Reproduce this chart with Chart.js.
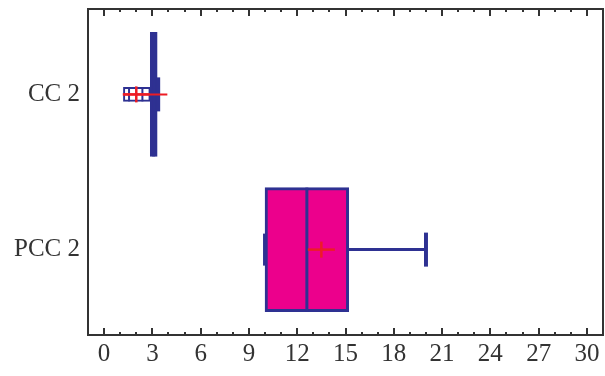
<!DOCTYPE html>
<html>
<head>
<meta charset="utf-8">
<script src="https://cdn.jsdelivr.net/npm/chart.js@4/dist/chart.umd.min.js"></script>
<style>
  html, body { margin: 0; padding: 0; background: #fff; }
  #wrap { width: 605px; height: 376px; }
</style>
</head>
<body>
<div id="wrap"><canvas id="box"></canvas></div>
<script>
// --- data ---
const categories  = ['CC 2', 'PCC 2'];
const q1Vals      = [2.87, 10.0];
const medianVals  = [3.08, 12.6];
const q3Vals      = [3.3, 15.2];
const lowCaps     = [null, 10.0];
const highCaps    = [3.36, 20.0];
const meanVals    = [2.0, 13.5];
const lowBands    = [[1.2, 2.87], null];   // CC 2 lower whisker drawn as a thin band
const bandMarks   = [[1.55, 2.38], []];    // marks inside that band
const meanSpans   = [[1.2, 3.93], null];   // red line through the CC 2 mean
const xTickValues = [0, 3, 6, 9, 12, 15, 18, 21, 24, 27, 30];

// --- colours ---
const BLUE = '#2E3192';
const MAGENTA = '#EC008C';
const RED = '#ED1C24';
const FRAME = '#333333';
const FONT = "'Liberation Serif', 'Times New Roman', serif";

const pos = i => i + 1;   // category position on the y scale

function pts(vals) {
    return vals.map((v, i) => v == null ? null : { x: v, y: pos(i) }).filter(Boolean);
}

function markDs(data, color, radius, width, rotation, order) {
    return {
        type: 'line', showLine: false, data, order,
        pointStyle: 'line', pointRotation: rotation,
        pointRadius: radius, pointHoverRadius: radius,
        pointBorderColor: color, pointBorderWidth: width,
        pointBackgroundColor: color
    };
}

const datasets = [];

// thin band (CC 2 lower whisker)
datasets.push({
    type: 'bar', indexAxis: 'y', grouped: false, order: 9,
    barPercentage: 1, categoryPercentage: 1,
    data: lowBands.map((b, i) => b ? { x: b, y: pos(i) } : null).filter(Boolean),
    backgroundColor: '#ffffff', borderColor: BLUE, borderWidth: 2,
    borderSkipped: false, maxBarThickness: 14
});
datasets.push(markDs(bandMarks.flatMap((m, i) => m.map(v => ({ x: v, y: pos(i) }))), BLUE, 7, 2, 90, 8));

// upper whiskers
categories.forEach((c, i) => {
    datasets.push({
        type: 'line', order: 7,
        data: [{ x: q3Vals[i], y: pos(i) }, { x: highCaps[i], y: pos(i) }],
        borderColor: BLUE, borderWidth: 3, pointRadius: 0
    });
});

// boxes
datasets.push({
    type: 'bar', indexAxis: 'y', grouped: false, order: 6,
    barPercentage: 1, categoryPercentage: 1,
    data: categories.map((c, i) => ({ x: [q1Vals[i], q3Vals[i]], y: pos(i) })),
    backgroundColor: MAGENTA, borderColor: BLUE, borderWidth: 3,
    borderSkipped: false, maxBarThickness: 124
});

// medians and caps
datasets.push(markDs(pts(medianVals), BLUE, 62, 3, 90, 5));
datasets.push(markDs(pts(lowCaps), BLUE, 16, 4, 90, 4));
datasets.push(markDs(pts(highCaps), BLUE, 17, 4, 90, 4));

// mean line for CC 2
meanSpans.forEach((s, i) => {
    if (!s) return;
    datasets.push({
        type: 'line', order: 3,
        data: [{ x: s[0], y: pos(i) }, { x: s[1], y: pos(i) }],
        borderColor: RED, borderWidth: 2, pointRadius: 0
    });
});

// mean crosses
datasets.push(markDs(pts(meanVals), RED, 13.5, 2.5, 0, 2));
datasets.push(markDs(pts(meanVals), RED, 8, 2.5, 90, 1));

// frame + inward tick marks on top and bottom
const frameTicks = {
    id: 'frameTicks',
    afterDatasetsDraw(chart) {
        const { ctx, chartArea: a, scales: { x } } = chart;
        ctx.save();
        ctx.strokeStyle = FRAME;
        ctx.lineWidth = 2;
        ctx.strokeRect(a.left, a.top, a.right - a.left, a.bottom - a.top);
        for (let v = 0; v <= 30; v++) {
            const px = Math.round(x.getPixelForValue(v));
            const len = v % 3 === 0 ? 7 : 3;
            ctx.beginPath();
            ctx.moveTo(px, a.bottom); ctx.lineTo(px, a.bottom - len);
            ctx.moveTo(px, a.top); ctx.lineTo(px, a.top + len);
            ctx.stroke();
        }
        ctx.restore();
    }
};

new Chart(document.getElementById('box'), {
    data: { datasets },
    plugins: [frameTicks],
    options: {
        responsive: true,
        maintainAspectRatio: false,
        animation: false,
        events: [],
        layout: { autoPadding: false, padding: { top: 9, right: 2, left: 0, bottom: 0 } },
        plugins: { legend: { display: false }, tooltip: { enabled: false } },
        scales: {
            x: {
                type: 'linear', position: 'bottom', min: -1, max: 31, offset: false,
                grid: { display: false, offset: false, drawTicks: false }, border: { display: false },
                afterBuildTicks: s => { s.ticks = xTickValues.map(v => ({ value: v })); },
                afterFit: s => { s.height = 41; s.paddingLeft = 0; s.paddingRight = 0; },
                ticks: { color: FRAME, padding: 4, maxRotation: 0, autoSkip: false,
                         font: { family: FONT, size: 25 } }
            },
            y: {
                type: 'linear', position: 'left', min: 0.45, max: 2.55, reverse: true, offset: false,
                grid: { display: false, offset: false, drawTicks: false }, border: { display: false },
                afterBuildTicks: s => { s.ticks = categories.map((c, i) => ({ value: pos(i) })); },
                afterFit: s => { s.width = 88; s.paddingTop = 0; s.paddingBottom = 0; },
                ticks: { color: FRAME, padding: 8, autoSkip: false,
                         font: { family: FONT, size: 25 },
                         callback: v => categories[v - 1] }
            }
        }
    }
});
</script>
</body>
</html>
